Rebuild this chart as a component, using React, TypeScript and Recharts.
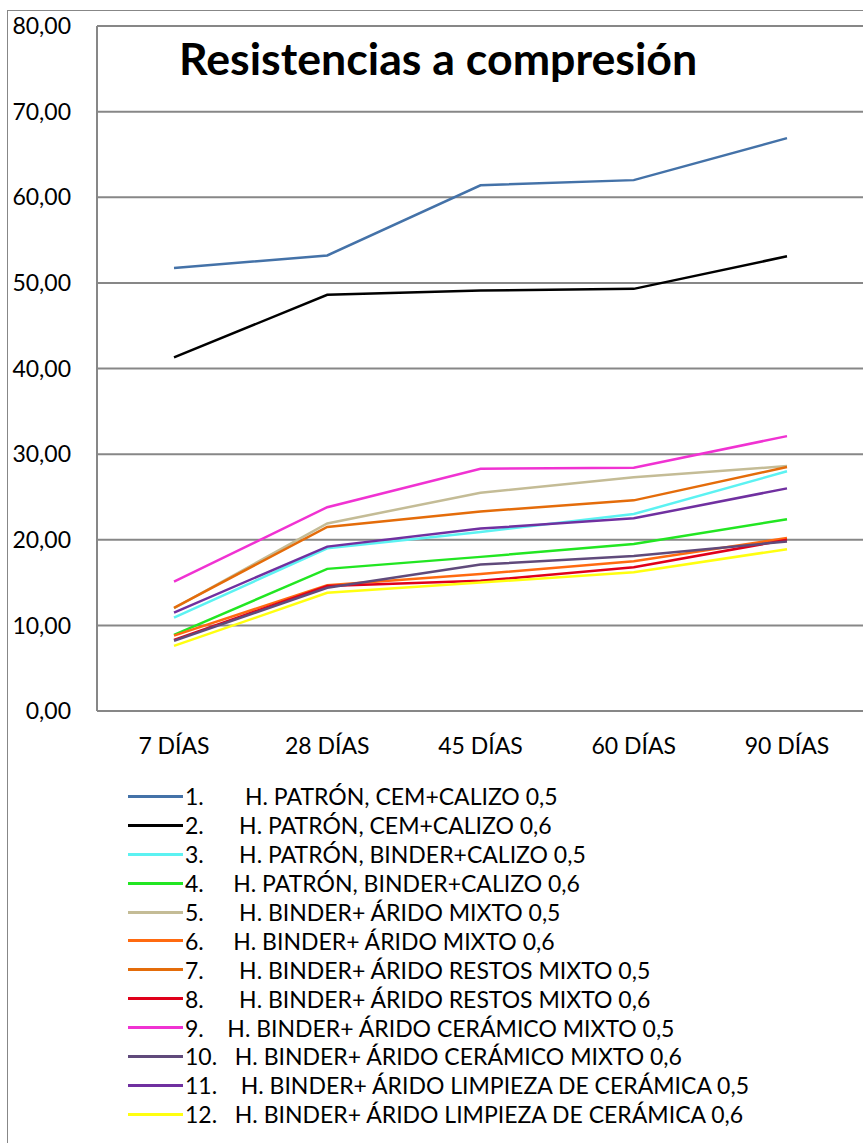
import { LineChart, Line, XAxis, YAxis, CartesianGrid } from "recharts";

const categories = ["7 DÍAS", "28 DÍAS", "45 DÍAS", "60 DÍAS", "90 DÍAS"];
const yTicks = [0, 10, 20, 30, 40, 50, 60, 70, 80];

const s1 = [51.75, 53.2, 61.4, 62.0, 66.9];
const s2 = [41.3, 48.6, 49.1, 49.3, 53.1];
const s3 = [10.9, 19.0, 20.9, 23.0, 28.0];
const s4 = [8.9, 16.6, 18.0, 19.5, 22.4];
const s5 = [12.0, 21.9, 25.5, 27.3, 28.6];
const s6 = [8.8, 14.7, 16.0, 17.5, 20.2];
const s7 = [12.05, 21.5, 23.3, 24.6, 28.5];
const s8 = [8.3, 14.6, 15.2, 16.8, 20.0];
const s9 = [15.1, 23.8, 28.3, 28.4, 32.1];
const s10 = [8.2, 14.4, 17.1, 18.1, 19.8];
const s11 = [11.5, 19.2, 21.3, 22.5, 26.0];
const s12 = [7.6, 13.8, 15.0, 16.2, 18.9];

const labels = [
  "1.       H. PATRÓN, CEM+CALIZO 0,5",
  "2.      H. PATRÓN, CEM+CALIZO 0,6",
  "3.      H. PATRÓN, BINDER+CALIZO 0,5",
  "4.     H. PATRÓN, BINDER+CALIZO 0,6",
  "5.      H. BINDER+ ÁRIDO MIXTO 0,5",
  "6.     H. BINDER+ ÁRIDO MIXTO 0,6",
  "7.      H. BINDER+ ÁRIDO RESTOS MIXTO 0,5",
  "8.      H. BINDER+ ÁRIDO RESTOS MIXTO 0,6",
  "9.    H. BINDER+ ÁRIDO CERÁMICO MIXTO 0,5",
  "10.   H. BINDER+ ÁRIDO CERÁMICO MIXTO 0,6",
  "11.    H. BINDER+ ÁRIDO LIMPIEZA DE CERÁMICA 0,5",
  "12.   H. BINDER+ ÁRIDO LIMPIEZA DE CERÁMICA 0,6",
];

const colors = [
  "#4472A8",
  "#000000",
  "#5CF2F2",
  "#22E622",
  "#C4BC96",
  "#FF6A10",
  "#E46C0A",
  "#E0001A",
  "#F032D2",
  "#604A7B",
  "#7030A0",
  "#FFFF10",
];

const seriesValues = [s1, s2, s3, s4, s5, s6, s7, s8, s9, s10, s11, s12];

const data = categories.map((cat, i) => {
  const row: Record<string, string | number> = { cat };
  seriesValues.forEach((vals, k) => {
    row[`s${k + 1}`] = vals[i];
  });
  return row;
});

const FONT = "Lato, 'Open Sans', sans-serif";
const GRID = "#878787";

export default function App() {
  return (
    <div
      style={{
        position: "absolute",
        left: 0,
        top: 0,
        width: 863,
        height: 1143,
        overflow: "hidden",
        background: "#fff",
        fontFamily: FONT,
      }}
    >
      {/* chart frame */}
      <div
        style={{
          position: "absolute",
          left: 7,
          top: 10,
          width: 900,
          height: 1200,
          border: `1.5px solid ${GRID}`,
          boxSizing: "border-box",
        }}
      />
      <div style={{ position: "absolute", left: 0, top: 0 }}>
        <LineChart
          width={866}
          height={1143}
          data={data}
          margin={{ top: 26, right: 2, bottom: 382, left: 7 }}
        >
          <CartesianGrid vertical={false} stroke={GRID} strokeWidth={2} />
          <XAxis
            dataKey="cat"
            padding={{ left: 77, right: 77 }}
            tickLine={false}
            axisLine={{ stroke: GRID, strokeWidth: 2 }}
            height={50}
            tickSize={8}
            tickMargin={19}
            tick={{ fontSize: 23, fill: "#000", fontFamily: FONT }}
            interval={0}
          />
          <YAxis
            width={90}
            domain={[0, 80]}
            ticks={yTicks}
            interval={0}
            tickLine={false}
            axisLine={{ stroke: GRID, strokeWidth: 2 }}
            tickSize={6}
            tickMargin={20}
            tickFormatter={(v: number) => v.toFixed(2).replace(".", ",")}
            tick={{ fontSize: 23, fill: "#000", fontFamily: FONT }}
          />
          {seriesValues.map((_, k) => (
            <Line
              key={k}
              type="linear"
              dataKey={`s${k + 1}`}
              stroke={colors[k]}
              strokeWidth={2.5}
              dot={false}
              isAnimationActive={false}
            />
          ))}
        </LineChart>
      </div>

      {/* title */}
      <div
        style={{
          position: "absolute",
          left: 179,
          top: 31,
          fontSize: 44.7,
          fontWeight: 700,
          color: "#000",
          whiteSpace: "nowrap",
        }}
      >
        Resistencias a compresión
      </div>

      {/* legend */}
      <div style={{ position: "absolute", left: 128, top: 782 }}>
        {labels.map((label, k) => (
          <div
            key={k}
            style={{ display: "flex", alignItems: "center", height: 28.9 }}
          >
            <div
              style={{ width: 55, height: 3, background: colors[k], marginRight: 2 }}
            />
            <span style={{ fontSize: 23, whiteSpace: "pre", color: "#000" }}>
              {label}
            </span>
          </div>
        ))}
      </div>
    </div>
  );
}
